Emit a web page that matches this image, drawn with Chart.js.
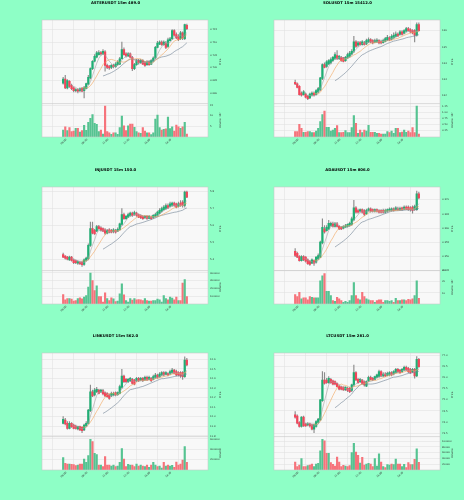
<!DOCTYPE html>
<html>
<head>
<meta charset="utf-8">
<script src="https://cdn.jsdelivr.net/npm/chart.js@4.4.1/dist/chart.umd.min.js"></script>
<style>
html,body{margin:0;padding:0;background:#8effc6;width:464px;height:500px;overflow:hidden;}
canvas{position:absolute;}
</style>
</head>
<body>
<script>
// ---------------- data ----------------
const timeLabels = ["06:00","08:30","11:00","13:30","16:00","18:30"];
const timeTickIndex = [0,10,20,30,40,50];
const maWindows = [5,10,20];

const titles = ["ASTERUSDT 15m 489.0","SOLUSDT 15m 15412.0","INJUSDT 15m 150.0","ADAUSDT 15m 806.0","LINKUSDT 15m 562.0","LTCUSDT 15m 281.0"];

const asterOpen = [0.6939,0.6955,0.6920,0.6946,0.6929,0.6920,0.6909,0.6913,0.6909,0.6917,0.6909,0.6917,0.6935,0.6959,0.6996,0.7025,0.7041,0.7051,0.7059,0.7054,0.7062,0.7009,0.7004,0.7001,0.7009,0.7004,0.7012,0.7014,0.7035,0.7071,0.7054,0.7046,0.7054,0.7041,0.6996,0.7012,0.7028,0.7020,0.7028,0.7020,0.7012,0.7022,0.7014,0.7025,0.7038,0.7080,0.7093,0.7101,0.7091,0.7097,0.7084,0.7106,0.7114,0.7146,0.7130,0.7124,0.7114,0.7137,0.7114,0.7167];
const asterClose = [0.6955,0.6920,0.6949,0.6926,0.6917,0.6909,0.6913,0.6907,0.6916,0.6907,0.6920,0.6937,0.6962,0.6996,0.7025,0.7045,0.7058,0.7059,0.7054,0.7064,0.7009,0.7001,0.6999,0.7009,0.7004,0.7014,0.7022,0.7035,0.7071,0.7051,0.7046,0.7054,0.7041,0.6996,0.7012,0.7028,0.7020,0.7028,0.7014,0.7009,0.7022,0.7012,0.7028,0.7038,0.7080,0.7097,0.7101,0.7091,0.7101,0.7080,0.7110,0.7114,0.7146,0.7128,0.7117,0.7110,0.7137,0.7117,0.7170,0.7154];
const asterHigh = [0.6962,0.6970,0.6953,0.6949,0.6935,0.6924,0.6917,0.6917,0.6920,0.6922,0.6926,0.6939,0.6970,0.6999,0.7028,0.7051,0.7064,0.7067,0.7064,0.7071,0.7067,0.7014,0.7009,0.7012,0.7014,0.7020,0.7028,0.7041,0.7101,0.7078,0.7059,0.7059,0.7058,0.7045,0.7017,0.7033,0.7033,0.7033,0.7032,0.7025,0.7028,0.7028,0.7032,0.7043,0.7084,0.7104,0.7106,0.7106,0.7106,0.7104,0.7117,0.7120,0.7150,0.7150,0.7137,0.7130,0.7143,0.7141,0.7172,0.7172];
const asterLow = [0.6935,0.6917,0.6916,0.6922,0.6913,0.6904,0.6904,0.6900,0.6904,0.6904,0.6880,0.6916,0.6933,0.6955,0.6992,0.7022,0.7038,0.7049,0.7049,0.7051,0.6986,0.6996,0.6993,0.6996,0.6999,0.7001,0.7009,0.7012,0.7033,0.7049,0.7041,0.7043,0.7038,0.6988,0.6992,0.7009,0.7014,0.7017,0.7012,0.7005,0.7009,0.7009,0.7012,0.7022,0.7035,0.7078,0.7091,0.7088,0.7088,0.7075,0.7080,0.7104,0.7110,0.7124,0.7114,0.7106,0.7110,0.7110,0.7110,0.7150];
const asterVolume = [330000,480000,300000,440000,250000,280000,410000,410000,230000,300000,550000,310000,690000,880000,1050000,640000,590000,250000,330000,140000,1450000,250000,200000,130000,200000,200000,130000,440000,980000,520000,300000,520000,610000,610000,450000,250000,200000,170000,440000,280000,200000,200000,110000,200000,840000,1030000,440000,330000,360000,380000,940000,390000,480000,280000,560000,480000,410000,480000,690000,140000];
const asterPriceTicks = [0.690,0.695,0.700,0.705,0.710,0.715];
const asterVolumeTicks = [500000,1000000,1500000];
const asterVolumeTickLabels = ["5","10","15"];

const solOpen = [132.83,132.73,132.58,132.17,132.07,132.11,131.97,131.87,132.03,132.17,132.07,132.24,132.38,133.06,133.92,133.81,133.96,134.02,134.16,134.29,134.47,134.29,134.37,134.33,134.16,134.33,134.43,134.57,134.74,135.31,135.11,135.27,135.15,135.25,135.19,135.31,135.45,135.39,135.29,135.31,135.39,135.35,135.27,135.35,135.43,135.56,135.48,135.56,135.64,135.80,135.76,135.93,135.84,135.97,136.13,136.07,136.01,136.01,135.72,136.38];
const solClose = [132.73,132.52,132.07,132.03,132.24,131.91,131.82,132.11,132.17,132.03,132.32,132.44,133.10,133.92,133.75,134.08,134.16,134.22,134.37,134.53,134.29,134.43,134.16,134.12,134.37,134.53,134.63,134.74,135.31,135.04,135.25,135.15,135.31,135.15,135.39,135.45,135.31,135.25,135.39,135.43,135.25,135.25,135.39,135.52,135.60,135.43,135.66,135.72,135.80,135.68,135.93,135.76,136.01,136.13,136.01,135.93,135.87,135.72,136.38,136.01];
const solHigh = [132.97,132.79,132.62,132.24,132.32,132.17,132.03,132.17,132.24,132.24,132.38,132.52,133.14,133.96,134.02,134.16,134.22,134.33,134.43,134.65,134.78,134.49,134.43,134.37,134.43,134.63,134.74,134.84,135.66,135.39,135.35,135.35,135.39,135.35,135.48,135.56,135.52,135.45,135.48,135.52,135.45,135.43,135.48,135.60,135.72,135.64,135.76,135.87,135.93,135.87,136.01,136.01,136.07,136.21,136.21,136.13,136.07,136.07,136.48,136.48];
const solLow = [132.69,132.48,132.03,131.97,132.03,131.87,131.76,131.82,131.97,131.97,132.03,132.17,132.32,132.99,133.71,133.75,133.92,133.96,134.12,134.22,134.22,134.22,134.12,134.08,134.12,134.29,134.37,134.53,134.65,134.98,135.04,135.11,135.11,135.11,135.15,135.27,135.27,135.19,135.25,135.27,135.19,135.19,135.23,135.31,135.39,135.39,135.43,135.52,135.60,135.64,135.72,135.72,135.80,135.93,135.97,135.87,135.80,135.31,135.66,135.97];
const solVolume = [21500,21500,51000,35000,19000,19000,21500,21500,17500,17500,24000,35000,62000,91000,105000,39000,39000,24000,28000,35000,46000,17500,17500,19000,25500,17500,17500,38000,86000,55000,15000,28000,17500,28000,24000,47000,19000,19000,19000,15000,15000,12000,12000,12000,21500,17500,24000,15000,35000,35000,17500,20000,28000,19000,24000,17500,38000,17500,125000,12000];
const solPriceTicks = [132,133,134,135,136];
const solVolumeTicks = [25000,50000,75000,100000,125000];
const solVolumeTickLabels = ["0.25","0.50","0.75","1.00","1.25"];

const injOpen = [5.431,5.422,5.416,5.400,5.416,5.400,5.396,5.381,5.386,5.386,5.373,5.396,5.406,5.484,5.582,5.572,5.568,5.595,5.587,5.582,5.576,5.556,5.576,5.572,5.564,5.572,5.568,5.576,5.607,5.665,5.640,5.650,5.658,5.673,5.665,5.673,5.665,5.660,5.654,5.646,5.654,5.642,5.650,5.646,5.654,5.660,5.673,5.685,5.693,5.699,5.718,5.712,5.718,5.732,5.728,5.712,5.732,5.738,5.718,5.796];
const injClose = [5.416,5.410,5.404,5.416,5.396,5.383,5.383,5.390,5.377,5.371,5.400,5.410,5.484,5.582,5.556,5.552,5.595,5.582,5.572,5.568,5.556,5.572,5.562,5.562,5.576,5.562,5.578,5.611,5.665,5.640,5.654,5.665,5.673,5.658,5.677,5.660,5.650,5.646,5.640,5.654,5.642,5.654,5.640,5.660,5.665,5.679,5.689,5.699,5.708,5.718,5.704,5.728,5.732,5.718,5.708,5.728,5.718,5.718,5.796,5.767];
const injHigh = [5.439,5.425,5.420,5.422,5.420,5.406,5.400,5.396,5.392,5.392,5.406,5.416,5.494,5.621,5.621,5.578,5.601,5.601,5.595,5.587,5.582,5.578,5.582,5.578,5.582,5.578,5.587,5.615,5.699,5.673,5.660,5.673,5.679,5.679,5.685,5.679,5.669,5.665,5.660,5.660,5.660,5.660,5.658,5.665,5.673,5.685,5.699,5.708,5.718,5.728,5.728,5.738,5.738,5.738,5.732,5.738,5.747,5.747,5.802,5.802];
const injLow = [5.412,5.404,5.400,5.396,5.392,5.377,5.377,5.373,5.371,5.361,5.367,5.392,5.400,5.478,5.552,5.548,5.564,5.578,5.568,5.564,5.548,5.552,5.558,5.558,5.558,5.556,5.564,5.572,5.601,5.636,5.636,5.646,5.654,5.654,5.660,5.654,5.646,5.640,5.636,5.640,5.636,5.640,5.636,5.642,5.650,5.654,5.669,5.679,5.689,5.693,5.699,5.708,5.712,5.712,5.704,5.708,5.712,5.708,5.708,5.763];
const injVolume = [122600,53800,71000,71000,62400,36600,45200,71000,79600,66700,88200,109700,217200,397800,303200,174200,234400,96800,96800,23700,144100,71000,45200,79600,66700,32300,36600,131200,260200,118300,45200,23700,71000,49500,71000,53800,58100,53800,45200,71000,45200,36600,36600,45200,45200,62400,53800,23700,109700,71000,53800,88200,75300,53800,88200,45200,45200,268800,316100,96800];
const injPriceTicks = [5.4,5.5,5.6,5.7,5.8];
const injVolumeTicks = [100000,200000,300000,400000];
const injVolumeTickLabels = ["100000","200000","300000","400000"];

const adaOpen = [0.3518,0.3511,0.3499,0.3485,0.3499,0.3497,0.3488,0.3483,0.3476,0.3485,0.3479,0.3491,0.3497,0.3547,0.3597,0.3591,0.3597,0.3609,0.3615,0.3606,0.3615,0.3606,0.3603,0.3600,0.3603,0.3606,0.3609,0.3613,0.3629,0.3672,0.3662,0.3660,0.3665,0.3662,0.3650,0.3662,0.3668,0.3665,0.3660,0.3665,0.3662,0.3662,0.3662,0.3656,0.3660,0.3662,0.3662,0.3668,0.3665,0.3668,0.3665,0.3672,0.3667,0.3674,0.3674,0.3672,0.3674,0.3667,0.3665,0.3721];
const adaClose = [0.3503,0.3497,0.3485,0.3499,0.3488,0.3483,0.3474,0.3471,0.3488,0.3476,0.3497,0.3503,0.3550,0.3603,0.3586,0.3603,0.3617,0.3617,0.3606,0.3615,0.3606,0.3597,0.3597,0.3606,0.3608,0.3613,0.3617,0.3633,0.3672,0.3656,0.3656,0.3665,0.3656,0.3648,0.3662,0.3668,0.3660,0.3660,0.3665,0.3660,0.3656,0.3656,0.3656,0.3662,0.3665,0.3667,0.3668,0.3662,0.3672,0.3665,0.3670,0.3665,0.3674,0.3667,0.3665,0.3665,0.3662,0.3676,0.3721,0.3707];
const adaHigh = [0.3527,0.3515,0.3503,0.3503,0.3503,0.3499,0.3491,0.3485,0.3491,0.3488,0.3499,0.3509,0.3554,0.3633,0.3609,0.3609,0.3627,0.3621,0.3621,0.3620,0.3620,0.3609,0.3606,0.3609,0.3613,0.3615,0.3621,0.3639,0.3698,0.3676,0.3667,0.3668,0.3668,0.3665,0.3667,0.3672,0.3672,0.3668,0.3668,0.3668,0.3665,0.3665,0.3667,0.3667,0.3668,0.3672,0.3672,0.3672,0.3676,0.3674,0.3674,0.3674,0.3679,0.3679,0.3679,0.3676,0.3679,0.3681,0.3731,0.3727];
const adaLow = [0.3499,0.3495,0.3483,0.3483,0.3485,0.3479,0.3471,0.3468,0.3474,0.3468,0.3476,0.3488,0.3495,0.3544,0.3582,0.3589,0.3594,0.3606,0.3603,0.3603,0.3603,0.3594,0.3594,0.3597,0.3601,0.3603,0.3606,0.3609,0.3627,0.3653,0.3653,0.3656,0.3653,0.3644,0.3648,0.3660,0.3656,0.3656,0.3656,0.3656,0.3653,0.3653,0.3653,0.3653,0.3656,0.3660,0.3660,0.3660,0.3662,0.3662,0.3662,0.3662,0.3665,0.3665,0.3662,0.3660,0.3653,0.3662,0.3662,0.3703];
const adaVolume = [840000,660000,1050000,460000,550000,550000,370000,660000,600000,550000,550000,550000,2080000,2520000,2730000,1140000,1140000,750000,310000,250000,600000,460000,310000,160000,250000,160000,310000,750000,1930000,750000,460000,370000,1050000,660000,460000,370000,310000,310000,160000,310000,370000,370000,160000,310000,310000,250000,310000,160000,520000,310000,310000,370000,370000,310000,430000,370000,460000,750000,2080000,520000];
const adaPriceTicks = [0.345,0.350,0.355,0.360,0.365,0.370];
const adaVolumeTicks = [1000000,2000000,3000000];
const adaVolumeTickLabels = ["10","20","30"];

const linkOpen = [11.932,11.967,11.932,11.880,11.932,11.915,11.904,11.873,11.897,11.890,11.863,11.904,11.932,12.064,12.262,12.228,12.262,12.280,12.259,12.273,12.252,12.245,12.228,12.217,12.228,12.252,12.231,12.245,12.308,12.426,12.391,12.367,12.377,12.391,12.384,12.377,12.401,12.384,12.401,12.384,12.412,12.391,12.401,12.391,12.412,12.436,12.419,12.436,12.461,12.440,12.454,12.447,12.461,12.488,12.471,12.461,12.461,12.461,12.419,12.593];
const linkClose = [11.974,11.925,11.880,11.932,11.897,11.880,11.880,11.897,11.863,11.856,11.915,11.932,12.071,12.262,12.217,12.280,12.287,12.245,12.280,12.238,12.217,12.210,12.193,12.245,12.245,12.228,12.252,12.315,12.426,12.367,12.367,12.391,12.401,12.349,12.342,12.401,12.377,12.401,12.377,12.412,12.384,12.412,12.377,12.419,12.436,12.412,12.447,12.461,12.436,12.461,12.436,12.471,12.488,12.454,12.436,12.436,12.426,12.419,12.593,12.541];
const linkHigh = [12.002,11.984,11.950,11.950,11.939,11.925,11.915,11.904,11.904,11.897,11.925,11.950,12.078,12.332,12.280,12.297,12.308,12.287,12.287,12.287,12.262,12.252,12.238,12.259,12.259,12.262,12.262,12.332,12.495,12.436,12.401,12.401,12.412,12.401,12.391,12.412,12.412,12.412,12.412,12.426,12.426,12.426,12.412,12.436,12.454,12.447,12.461,12.471,12.471,12.471,12.461,12.488,12.506,12.495,12.488,12.471,12.471,12.471,12.627,12.610];
const linkLow = [11.925,11.915,11.870,11.873,11.890,11.873,11.870,11.863,11.856,11.835,11.856,11.897,11.925,12.054,12.210,12.217,12.252,12.238,12.252,12.228,12.210,12.203,12.182,12.210,12.217,12.217,12.224,12.238,12.297,12.356,12.356,12.356,12.367,12.342,12.332,12.367,12.367,12.377,12.367,12.377,12.377,12.384,12.367,12.384,12.401,12.401,12.412,12.426,12.426,12.436,12.426,12.440,12.454,12.447,12.426,12.426,12.412,12.391,12.412,12.530];
const linkVolume = [238700,129000,116100,116100,109700,103200,83900,96800,116100,116100,212900,148400,277400,593600,548400,322600,296800,96800,96800,64500,258100,96800,96800,77400,96800,64500,77400,148400,412900,212900,64500,109700,96800,96800,64500,116100,77400,96800,77400,64500,96800,51600,96800,148400,96800,64500,77400,38700,148400,77400,96800,77400,90300,51600,154800,96800,116100,193600,451600,148400];
const linkPriceTicks = [11.8,11.9,12.0,12.1,12.2,12.3,12.4,12.5,12.6];
const linkVolumeTicks = [200000,400000,600000];
const linkVolumeTickLabels = ["200000","400000","600000"];

const ltcOpen = [74.32,74.27,73.98,73.80,74.22,73.92,73.87,73.92,73.87,73.68,73.80,73.98,74.10,74.96,75.88,75.88,75.76,75.91,75.85,75.81,75.73,75.61,75.58,75.56,75.44,75.51,75.51,75.41,75.66,76.21,75.91,75.81,75.88,75.81,75.61,75.85,76.00,75.96,75.91,76.00,76.03,76.26,76.06,76.15,76.09,76.11,76.21,76.15,76.21,76.36,76.33,76.26,76.33,76.45,76.40,76.36,76.26,76.36,76.06,76.81];
const ltcClose = [74.22,73.95,73.80,74.22,73.83,73.83,73.92,73.83,73.68,73.87,74.02,74.13,74.99,75.88,75.73,75.76,75.96,75.76,75.70,75.70,75.58,75.47,75.47,75.44,75.56,75.41,75.36,75.66,76.21,75.88,75.76,75.91,75.73,75.66,75.81,76.00,75.91,75.88,76.03,76.11,76.26,76.06,76.15,76.06,76.18,76.21,76.11,76.26,76.36,76.26,76.21,76.36,76.45,76.33,76.26,76.21,76.36,76.06,76.81,76.48];
const ltcHigh = [74.47,74.32,74.02,74.24,74.27,73.95,73.98,73.95,73.92,73.92,74.07,74.17,75.02,76.26,76.21,75.96,76.03,75.96,75.88,75.85,75.76,75.66,75.61,75.58,75.58,75.56,75.56,75.70,76.55,76.26,75.96,75.96,75.91,75.85,75.85,76.06,76.06,76.00,76.06,76.15,76.33,76.30,76.21,76.21,76.24,76.26,76.26,76.30,76.40,76.40,76.36,76.40,76.51,76.51,76.45,76.40,76.40,76.40,76.93,76.85];
const ltcLow = [74.17,73.92,73.77,73.77,73.80,73.80,73.83,73.77,73.65,73.53,73.77,73.95,74.07,74.92,75.70,75.73,75.73,75.73,75.66,75.66,75.56,75.44,75.44,75.41,75.41,75.36,75.32,75.36,75.61,75.85,75.73,75.76,75.70,75.61,75.58,75.81,75.88,75.85,75.88,75.96,76.00,76.03,76.03,76.03,76.06,76.06,76.06,76.11,76.18,76.21,76.18,76.21,76.30,76.30,76.21,76.18,76.21,75.96,76.03,76.45];
const ltcVolume = [27700,11600,17300,39300,11600,11600,15000,17300,20800,11600,20800,23100,65900,106400,100600,57800,57800,25400,19700,13900,45100,27700,11600,16200,13900,11600,15000,60100,92500,62400,50900,24300,43900,17300,20800,23100,20800,11600,39300,13900,55500,27700,11600,8100,18500,17300,20800,18500,38100,20800,20800,11600,19700,8100,25400,18500,18500,37000,72800,26600];
const ltcPriceTicks = [73.5,74.0,74.5,75.0,75.5,76.0,76.5,77.0];
const ltcVolumeTicks = [20000,40000,60000,80000,100000];
const ltcVolumeTickLabels = ["20000","40000","60000","80000","100000"];

// ---------------- styles ----------------
const FONT = '"DejaVu Sans", sans-serif';
const FACE = '#f8f8f8', GRID = '#dedede', FRAME = '#c8c8c8', TICK = '#333333';
const UP = '#1fae74', DOWN = '#f2455a', VUP = '#55c391', VDOWN = '#f6737b', WICK = '#8c8c8c';
const MA_COLORS = ['#a3a3a3', '#f2a55b', '#6e8293'];

const panels = [
  {title: titles[0], left: 0,   top: 0,   o: asterOpen, h: asterHigh, l: asterLow, c: asterClose, v: asterVolume,
   pt: asterPriceTicks, dec: 3, pmin: 0.6858, pmax: 0.7188, vt: asterVolumeTicks, vtl: asterVolumeTickLabels, vmax: 1570000, vtitle: 'Volume  10\u2075'},
  {title: titles[1], left: 232, top: 0,   o: solOpen, h: solHigh, l: solLow, c: solClose, v: solVolume,
   pt: solPriceTicks, dec: 0, pmin: 131.52, pmax: 136.66, vt: solVolumeTicks, vtl: solVolumeTickLabels, vmax: 135000, vtitle: 'Volume  10\u2075'},
  {title: titles[2], left: 0,   top: 167, o: injOpen, h: injHigh, l: injLow, c: injClose, v: injVolume,
   pt: injPriceTicks, dec: 1, pmin: 5.337, pmax: 5.826, vt: injVolumeTicks, vtl: injVolumeTickLabels, vmax: 431000, vtitle: 'Volume'},
  {title: titles[3], left: 232, top: 167, o: adaOpen, h: adaHigh, l: adaLow, c: adaClose, v: adaVolume,
   pt: adaPriceTicks, dec: 3, pmin: 0.34496, pmax: 0.37453, vt: adaVolumeTicks, vtl: adaVolumeTickLabels, vmax: 3000000, vtitle: 'Volume  10\u2075'},
  {title: titles[4], left: 0,   top: 333, o: linkOpen, h: linkHigh, l: linkLow, c: linkClose, v: linkVolume,
   pt: linkPriceTicks, dec: 1, pmin: 11.794, pmax: 12.666, vt: linkVolumeTicks, vtl: linkVolumeTickLabels, vmax: 646500, vtitle: 'Volume'},
  {title: titles[5], left: 232, top: 333, o: ltcOpen, h: ltcHigh, l: ltcLow, c: ltcClose, v: ltcVolume,
   pt: ltcPriceTicks, dec: 1, pmin: 73.35, pmax: 77.09, vt: ltcVolumeTicks, vtl: ltcVolumeTickLabels, vmax: 115600, vtitle: 'Volume'}
];

function movingAverage(values, n) {
  return values.map((_, i) => {
    if (i < n - 1) return null;
    let s = 0;
    for (let k = i - n + 1; k <= i; k++) s += values[k];
    return s / n;
  });
}

const decorPlugin = {
  id: 'decor',
  beforeDraw(chart) {
    const {ctx, chartArea: a} = chart;
    ctx.save();
    ctx.fillStyle = FACE;
    ctx.fillRect(a.left, a.top, a.right - a.left, a.bottom - a.top);
    ctx.restore();
  },
  afterDraw(chart, args, opts) {
    const {ctx, chartArea: a, scales} = chart;
    ctx.save();
    ctx.strokeStyle = FRAME; ctx.lineWidth = 0.6;
    ctx.strokeRect(a.left, a.top, a.right - a.left, a.bottom - a.top);
    ctx.beginPath(); ctx.moveTo(a.left, scales.y2.top); ctx.lineTo(a.right, scales.y2.top); ctx.stroke();
    ctx.fillStyle = '#000'; ctx.font = 'bold 3.8px ' + FONT;
    ctx.textAlign = 'center'; ctx.textBaseline = 'middle';
    ctx.fillText(opts.title, 115.5, 3.2);
    ctx.font = '2.6px ' + FONT; ctx.fillStyle = TICK;
    [[scales.y, 'Price'], [scales.y2, opts.vtitle]].forEach(([s, t]) => {
      ctx.save(); ctx.translate(220, (s.top + s.bottom) / 2); ctx.rotate(-Math.PI / 2);
      ctx.fillText(t, 0, 0); ctx.restore();
    });
    ctx.restore();
  }
};

panels.forEach(p => {
  const cv = document.createElement('canvas');
  cv.width = 232; cv.height = 166;
  cv.style.left = p.left + 'px'; cv.style.top = p.top + 'px';
  document.body.appendChild(cv);
  const idx = p.c.map((_, i) => i);
  const up = idx.map(i => p.c[i] >= p.o[i]);
  const mas = maWindows.map(n => movingAverage(p.c, n));
  const tickFont = {family: FONT, size: 2.5};
  new Chart(cv, {
    type: 'bar',
    data: {
      datasets: [
        ...mas.map((m, k) => ({type: 'line', label: 'MA' + maWindows[k], data: idx.map(i => ({x: i, y: m[i]})),
          borderColor: MA_COLORS[k], borderWidth: 0.6, pointRadius: 0, yAxisID: 'y', order: 1})),
        {type: 'bar', label: 'body', data: idx.map(i => ({x: i, y: [p.o[i], p.c[i]]})),
          backgroundColor: idx.map(i => up[i] ? UP : DOWN), barThickness: 1.6, minBarLength: 0.5,
          grouped: false, yAxisID: 'y', order: 2},
        {type: 'bar', label: 'wick', data: idx.map(i => ({x: i, y: [p.l[i], p.h[i]]})),
          backgroundColor: WICK, barThickness: 0.5, grouped: false, yAxisID: 'y', order: 3},
        {type: 'bar', label: 'volume', data: idx.map(i => ({x: i, y: p.v[i]})),
          backgroundColor: idx.map(i => up[i] ? VUP : VDOWN), barThickness: 1.5,
          grouped: false, yAxisID: 'y2', order: 4}
      ]
    },
    plugins: [decorPlugin],
    options: {
      animation: false, responsive: false, events: [],
      layout: {padding: {left: 42, top: 20, right: 11, bottom: 0}},
      plugins: {legend: {display: false}, tooltip: {enabled: false}, decor: {title: p.title, vtitle: p.vtitle}},
      scales: {
        x: {type: 'linear', position: 'bottom', min: -3.5, max: 62.5, bounds: 'data',
          afterBuildTicks: s => { s.ticks = timeTickIndex.map(v => ({value: v})); },
          afterFit: s => { s.height = 29; },
          ticks: {autoSkip: false, minRotation: 45, maxRotation: 45, font: tickFont, color: TICK, padding: 1, labelOffset: 3,
            callback: v => { const k = timeTickIndex.indexOf(v); return k >= 0 ? timeLabels[k] : ''; }},
          grid: {color: GRID, lineWidth: 0.5, drawTicks: false}, border: {display: false}},
        y: {type: 'linear', position: 'right', stack: 'panel', stackWeight: 5, min: p.pmin, max: p.pmax, bounds: 'data',
          afterBuildTicks: s => { s.ticks = p.pt.map(v => ({value: v})); },
          afterFit: s => { s.width = 13; },
          ticks: {autoSkip: false, padding: 2, font: tickFont, color: TICK, callback: v => Number(v).toFixed(p.dec)},
          grid: {color: GRID, lineWidth: 0.5, drawTicks: false}, border: {display: false}},
        y2: {type: 'linear', position: 'right', stack: 'panel', stackWeight: 2, min: 0, max: p.vmax, bounds: 'data',
          afterBuildTicks: s => { s.ticks = p.vt.map(v => ({value: v})); },
          afterFit: s => { s.width = 13; },
          ticks: {autoSkip: false, padding: 2, font: tickFont, color: TICK,
            callback: v => { const k = p.vt.indexOf(v); return k >= 0 ? p.vtl[k] : ''; }},
          grid: {color: GRID, lineWidth: 0.5, drawTicks: false}, border: {display: false}}
      }
    }
  });
});
</script>
</body>
</html>
